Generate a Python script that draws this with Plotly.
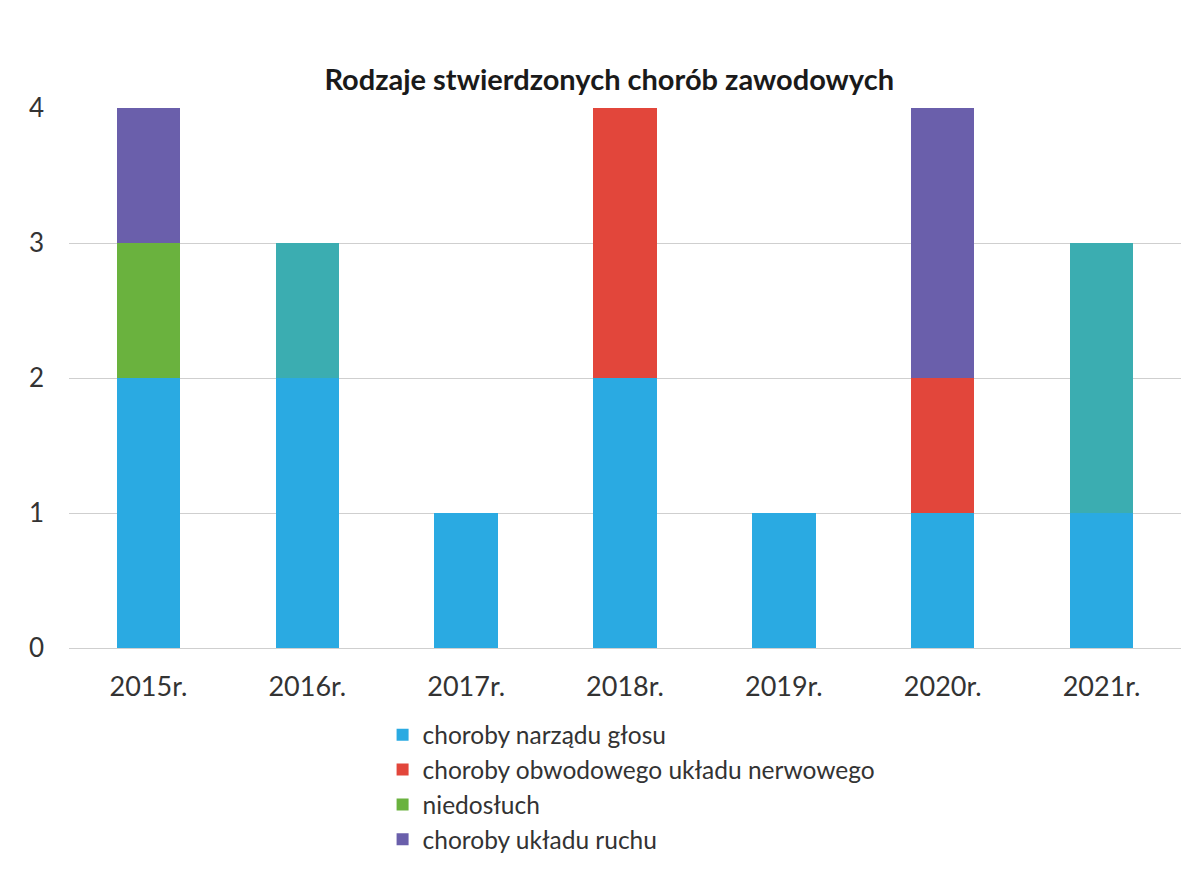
import plotly.graph_objects as go

years = ["2015r.", "2016r.", "2017r.", "2018r.", "2019r.", "2020r.", "2021r."]
glos = [2, 2, 1, 2, 1, 1, 1]
nerwowy = [0, 0, 0, 2, 0, 1, 0]
niedosluch = [1, 0, 0, 0, 0, 0, 0]
ruch = [1, 0, 0, 0, 0, 2, 0]
inne = [0, 1, 0, 0, 0, 0, 2]

series = [
    ("choroby narządu głosu", glos, "#2aaae2", True),
    ("choroby obwodowego układu nerwowego", nerwowy, "#e2463b", True),
    ("niedosłuch", niedosluch, "#6ab23e", True),
    ("choroby układu ruchu", ruch, "#6a5fab", True),
    ("inne", inne, "#3badb1", False),
]

fig = go.Figure()
for i, (name, vals, color, show) in enumerate(series):
    fig.add_trace(go.Bar(
        x=years, y=vals, name=name, marker=dict(color=color, line=dict(width=0)),
        showlegend=show, legendgroup=f"g{i}",
    ))

font = "Lato, 'Open Sans', sans-serif"
fig.update_layout(
    barmode="stack",
    bargap=0.6,
    width=1200, height=874,
    paper_bgcolor="white", plot_bgcolor="white",
    margin=dict(l=61, r=27, t=100, b=234),
    title=dict(text="<b>Rodzaje stwierdzonych chorób zawodowych</b>",
               x=0.501, xanchor="center", y=0.918, yanchor="middle",
               font=dict(family=font, size=29, color="#1a1a1a")),
    font=dict(family=font, size=24, color="#333333"),
    xaxis=dict(showgrid=False, showline=False, ticks="", ticklabelstandoff=20,
               tickfont=dict(size=27, color="#333333")),
    yaxis=dict(range=[0, 4], dtick=1, showgrid=True, gridcolor="#cfcfcf", gridwidth=1,
               zeroline=True, zerolinecolor="#cfcfcf", zerolinewidth=1,
               showline=False, ticks="", ticklabelstandoff=24,
               tickfont=dict(size=26, color="#333333")),
    legend=dict(orientation="v", x=0.282, xanchor="left", y=-0.119, yanchor="top",
                traceorder="normal", tracegroupgap=4,
                font=dict(family=font, size=24.5, color="#333333"),
                itemwidth=30),
)

fig.write_html("out.html")
